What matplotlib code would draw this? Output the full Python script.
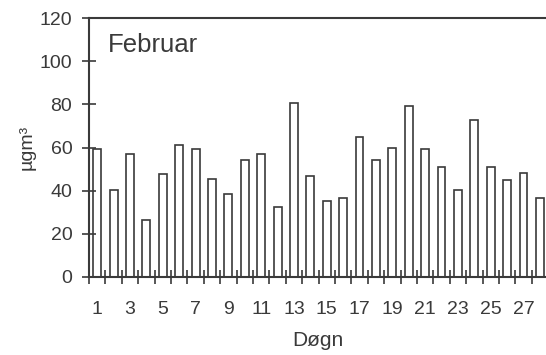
import numpy as np
import matplotlib.pyplot as plt
from matplotlib.ticker import FixedLocator

plt.rcParams['font.family'] = ['Liberation Sans', 'DejaVu Sans']

# Daily concentrations, February
days = np.arange(1, 29)
values = [59.5, 40.5, 57.0, 26.3, 47.9, 61.2, 59.2, 45.4, 38.5, 54.4,
          57.2, 32.3, 80.8, 47.0, 35.1, 36.5, 65.1, 54.3, 60.0, 79.3,
          59.5, 50.9, 40.2, 72.8, 50.9, 45.0, 48.4, 36.5]
day_labels = [str(d) for d in range(1, 28, 2)]
y_ticks = [0, 20, 40, 60, 80, 100, 120]

ink = '#3a3a3a'

fig = plt.figure(figsize=(5.46, 3.55), dpi=100)
ax = fig.add_axes([0.163, 0.22, 0.837, 0.729])

ax.bar(days, values, width=0.48, facecolor='white', edgecolor=ink, linewidth=1.2)

ax.set_xlim(0.5, 28.37)
ax.set_ylim(0, 120)

ax.set_yticks(y_ticks)
ax.set_xticks(range(1, 28, 2))
ax.set_xticklabels(day_labels)
ax.xaxis.set_minor_locator(FixedLocator(np.arange(0.5, 29, 1)))

ax.tick_params(axis='x', which='major', length=0, pad=17, labelsize=14, labelcolor=ink)
ax.tick_params(axis='x', which='minor', direction='inout', length=10, width=1.2, color=ink)
ax.tick_params(axis='y', direction='inout', length=10, width=1.2, color=ink, pad=7,
               labelsize=14, labelcolor=ink)

for side in ['left', 'bottom', 'top']:
    ax.spines[side].set_color(ink)
    ax.spines[side].set_linewidth(1.5)
ax.spines['right'].set_visible(False)

ax.text(1.64, 107.4, 'Februar', fontsize=18.5, color=ink, va='center', ha='left')

ax.set_xlabel('Døgn', fontsize=15, color=ink, labelpad=10)
ax.set_ylabel('µgm³', fontsize=14, color=ink, labelpad=3)

fig.savefig('out.png', dpi=100)
